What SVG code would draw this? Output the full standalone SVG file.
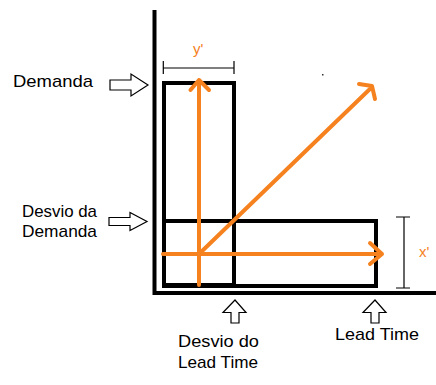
<svg xmlns="http://www.w3.org/2000/svg" width="436" height="385" viewBox="0 0 436 385">
<style>
.lbl{font-family:"Liberation Sans",Arial,sans-serif;font-size:17px;fill:#000}
.ol{font-family:"Liberation Sans",Arial,sans-serif;font-size:15px;fill:#F5821F}
.box{fill:none;stroke:#000;stroke-width:4}
.ax{stroke:#000;stroke-width:4;fill:none}
.or{stroke:#F5821F;stroke-width:4;fill:none;stroke-linecap:round;stroke-linejoin:round}
.thin{stroke:#000;stroke-width:1.2;fill:none}
.hol{fill:#fff;stroke:#000;stroke-width:1.2}
</style>
<rect width="436" height="385" fill="#fff"/>
<g id="axes">
<path class="ax" d="M154.5,10 V293 H436"/>
</g>
<g id="rect-demanda"><rect class="box" x="164" y="83" width="70" height="202"/></g>
<g id="rect-leadtime"><rect class="box" x="164" y="221" width="212" height="65"/></g>
<g id="connectors">
<path class="or" d="M199,285 V80 M190.5,90 L199,80 L209,90"/>
<path class="or" d="M163,254 H382 M370,243 L382,254 L370,264"/>
<path class="or" d="M199,254 L372,87 M359,84 L372,86 L375,99"/>
<path class="thin" d="M163.3,61 V74 M163.3,68 H234 M234,61 V74"/>
<path class="thin" d="M404,217 V288 M396,217 H410 M396,288 H410"/>
<rect x="322" y="74" width="1.5" height="1.5" fill="#333"/>
</g>
<g id="arrow-demanda"><path class="hol" d="M110,80 H131 V74 L148,85 L131,96 V90 H110 Z"/></g>
<g id="arrow-desvio-demanda"><path class="hol" d="M109,217.5 H130 V212.5 L147,221.5 L130,230.5 V225.5 H109 Z"/></g>
<g id="arrow-desvio-lead"><path class="hol" d="M235,300 L246,312.5 H239 V323 H231 V312.5 H223 Z"/></g>
<g id="arrow-lead"><path class="hol" d="M375,300 L386,312.5 H379 V323 H371 V312.5 H363 Z"/></g>
<g id="labels">
<text class="lbl" x="13" y="87" textLength="80" lengthAdjust="spacingAndGlyphs">Demanda</text>
<text class="lbl" x="22" y="217" textLength="75" lengthAdjust="spacingAndGlyphs">Desvio da</text>
<text class="lbl" x="22" y="237" textLength="75" lengthAdjust="spacingAndGlyphs">Demanda</text>
<text class="lbl" x="178" y="347" textLength="81" lengthAdjust="spacingAndGlyphs">Desvio do</text>
<text class="lbl" x="178" y="368" textLength="80" lengthAdjust="spacingAndGlyphs">Lead Time</text>
<text class="lbl" x="335" y="340" textLength="84" lengthAdjust="spacingAndGlyphs">Lead Time</text>
<text class="ol" x="193" y="54">y'</text>
<text class="ol" x="419" y="257">x'</text>
</g>
</svg>
